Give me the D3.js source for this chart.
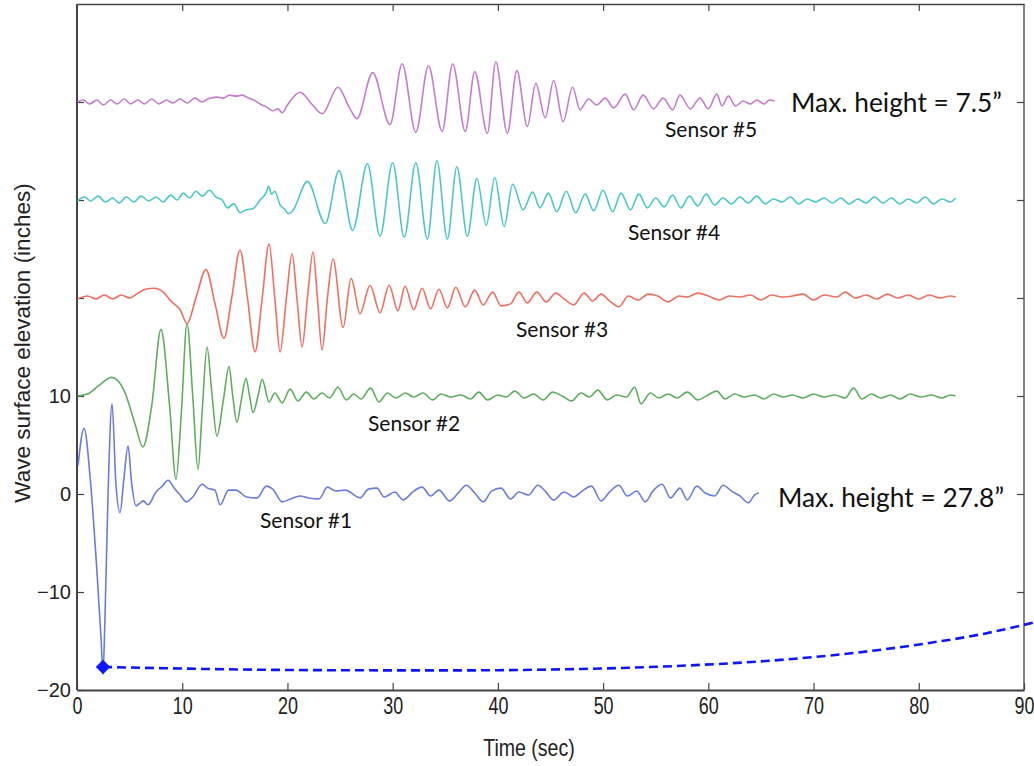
<!DOCTYPE html>
<html>
<head>
<meta charset="utf-8">
<script src="https://cdn.jsdelivr.net/npm/d3@7"></script>
<style>
  html, body { margin: 0; padding: 0; background: #ffffff; }
  svg { display: block; }
</style>
</head>
<body>
<svg id="chart" width="1034" height="766"></svg>
<script>
// ---------- data (time in sec, elevation in inches incl. vertical offset) ----------
const xTicks = [0, 10, 20, 30, 40, 50, 60, 70, 80, 90];
const yTicks = [-20, -10, 0, 10, 20, 30, 40];
const yTickLabels = ["−20", "−10", "0", "10", "", "", ""];

const sensorNames = ["Sensor #1", "Sensor #2", "Sensor #3", "Sensor #4", "Sensor #5"];

const sensor1 = [[0.1,2.9],[0.67,6.7],[1.3,1.0],[1.9,-8.0],[2.3,-15.0],[2.47,-18.4],[2.65,-13.0],[2.95,0.0],[3.33,9.2],[3.7,1.0],[4.09,-1.9],[4.45,1.5],[4.85,4.9],[5.2,1.0],[5.61,-1.2],[6.0,-0.9],[6.3,-0.7],[6.75,-1.1],[7.5,0.2],[8.1,0.8],[8.65,1.4],[9.3,0.5],[9.8,-0.1],[10.4,-0.8],[11.0,-0.3],[11.9,1.0],[12.4,0.6],[13.1,0.4],[13.6,-1.1],[14.4,0.4],[15.1,0.4],[16.1,-0.3],[17.1,-0.4],[18.0,0.8],[18.6,0.5],[19.5,-0.8],[20.3,-0.5],[21.2,-0.2],[22.0,-0.4],[23.0,-0.5],[23.8,0.7],[24.6,0.3],[25.5,0.4],[26.9,-0.4],[27.7,0.5],[28.5,0.6],[29.2,-0.3],[30.2,0.2],[31.0,-0.6],[32.0,0.3],[32.8,0.7],[33.6,-0.2],[34.4,0.4],[35.4,-0.7],[36.3,0.2],[37.0,0.9],[37.8,0.1],[38.6,-0.8],[39.4,0.3],[40.3,0.6],[41.2,-0.5],[42.0,0.2],[42.9,-0.1],[43.8,0.9],[44.5,0.3],[45.3,-0.6],[46.3,0.2],[47.2,-0.3],[48.0,0.3],[48.9,0.8],[49.8,-0.7],[50.6,0.2],[51.5,0.9],[52.3,-0.2],[53.2,0.3],[54.0,-0.8],[54.8,0.4],[55.6,1.0],[56.4,-0.4],[57.3,0.6],[58.0,-0.6],[58.9,0.8],[59.7,0.1],[60.6,-0.2],[61.4,0.9],[62.2,0.3],[63.0,-0.2],[63.8,-0.9],[64.4,-0.1],[64.8,0.1]];

const sensor2 = [[0.05,10.0],[1.0,10.2],[2.0,11.0],[3.3,11.9],[4.5,10.5],[5.5,7.2],[6.27,4.8],[7.1,9.0],[7.98,16.8],[8.8,9.0],[9.41,1.5],[9.9,8.0],[10.46,17.4],[11.0,10.0],[11.5,2.5],[11.9,8.5],[12.36,15.0],[12.8,10.5],[13.3,5.9],[13.9,9.5],[14.45,13.0],[14.8,10.0],[15.2,7.3],[15.6,9.5],[16.06,11.8],[16.4,10.0],[16.73,8.3],[17.2,10.0],[17.6,11.7],[18.25,9.4],[18.8,10.3],[19.5,9.3],[20.25,10.7],[21.0,9.5],[21.8,10.4],[22.5,9.7],[23.3,10.3],[24.0,9.8],[24.8,10.9],[25.6,9.6],[26.3,10.2],[27.0,9.7],[27.9,10.8],[28.7,9.4],[29.5,10.3],[30.3,9.8],[31.2,10.3],[32.0,9.9],[32.9,10.3],[33.8,9.6],[34.6,10.2],[35.5,9.9],[36.5,10.1],[37.4,9.7],[38.2,10.4],[39.0,9.6],[40.0,10.1],[40.8,9.9],[41.6,10.5],[42.5,9.8],[43.4,10.2],[44.3,9.6],[45.2,10.4],[46.1,10.0],[47.0,9.5],[47.9,10.3],[48.7,9.9],[49.5,10.6],[50.4,9.6],[51.3,10.1],[52.2,9.9],[53.0,10.9],[53.6,9.2],[54.5,10.3],[55.3,9.8],[56.2,10.2],[57.0,9.8],[58.0,10.4],[59.0,9.6],[59.8,10.0],[60.8,10.5],[61.6,9.7],[62.5,10.2],[63.4,9.9],[64.4,10.1],[65.3,9.7],[66.2,10.2],[67.1,9.9],[68.0,10.1],[69.0,9.8],[70.0,10.2],[71.0,9.9],[72.0,10.1],[73.0,9.8],[73.8,10.8],[74.6,9.7],[75.5,10.2],[76.4,9.8],[77.3,10.1],[78.2,9.7],[79.2,10.2],[80.2,9.9],[81.2,10.1],[82.2,9.8],[83.0,10.1],[83.5,10.0]];

const sensor3 = [[0.05,19.9],[1.0,20.2],[1.8,19.9],[2.6,20.3],[3.4,19.9],[4.2,20.3],[5.0,20.0],[5.8,20.5],[6.5,20.9],[7.4,21.0],[8.2,20.6],[9.0,19.6],[9.8,18.8],[10.46,17.4],[11.3,20.0],[12.26,22.9],[13.1,19.5],[13.97,15.9],[14.7,20.0],[15.49,24.9],[16.2,20.0],[16.92,14.5],[17.6,20.0],[18.25,25.5],[18.8,20.0],[19.3,14.5],[19.9,20.0],[20.44,24.5],[20.9,20.0],[21.39,15.0],[21.9,20.0],[22.43,24.7],[22.85,20.0],[23.29,14.7],[23.8,20.0],[24.33,24.0],[25.29,17.0],[26.05,22.0],[26.9,18.4],[27.85,21.3],[28.8,18.5],[29.66,21.3],[30.5,18.7],[31.18,21.2],[32.0,18.8],[32.8,21.0],[33.6,18.9],[34.4,20.9],[35.2,19.0],[36.0,21.1],[36.9,19.1],[37.8,20.8],[38.6,19.3],[39.5,20.6],[40.3,19.2],[41.2,19.4],[42.0,20.6],[42.8,19.5],[43.7,20.6],[44.6,19.6],[45.5,20.5],[46.3,19.9],[47.2,19.3],[48.2,20.5],[49.0,19.7],[49.8,20.4],[50.6,19.7],[51.5,19.1],[52.4,20.2],[53.3,19.8],[54.3,20.4],[55.2,20.2],[56.2,19.6],[57.2,20.2],[58.0,20.1],[59.0,20.5],[60.0,20.2],[61.0,19.8],[62.0,20.2],[63.0,20.1],[64.0,20.3],[65.0,19.8],[66.0,20.3],[67.0,20.1],[68.0,20.2],[69.0,20.4],[70.0,19.8],[71.0,20.3],[72.2,20.1],[73.0,20.6],[74.0,20.0],[75.0,20.3],[76.0,19.9],[77.0,20.4],[78.0,20.0],[79.0,20.3],[80.0,19.9],[81.0,20.3],[82.0,20.0],[83.0,20.2],[83.5,20.1]];

const sensor4 = [[0.05,29.9],[0.7,30.3],[1.3,29.9],[2.0,30.4],[2.7,29.8],[3.4,30.2],[4.0,29.7],[4.7,30.3],[5.4,29.8],[6.1,30.4],[6.8,29.9],[7.5,30.3],[8.2,29.8],[8.9,30.5],[9.5,30.0],[10.1,30.7],[10.7,30.2],[11.3,30.9],[11.9,30.4],[12.6,31.0],[13.2,30.3],[13.8,30.0],[14.3,29.2],[14.9,29.6],[15.5,28.7],[16.1,29.0],[16.7,29.1],[17.4,30.0],[18.0,30.8],[18.2,31.4],[18.5,30.6],[18.8,30.9],[19.3,29.5],[19.7,29.1],[20.1,28.6],[20.5,28.9],[21.9,31.9],[23.6,27.6],[24.9,33.0],[26.2,26.9],[27.6,33.7],[28.8,26.3],[30.0,33.8],[31.1,26.2],[32.2,33.8],[33.3,26.0],[34.2,34.0],[35.2,26.0],[36.1,33.4],[37.1,26.3],[38.0,32.2],[38.9,27.4],[39.7,32.3],[40.6,27.3],[41.4,31.6],[42.4,29.0],[43.3,30.8],[44.0,29.2],[44.8,30.7],[45.6,28.8],[46.5,30.9],[47.4,28.7],[48.3,30.6],[49.1,28.9],[50.0,31.0],[50.9,28.8],[51.7,30.7],[52.6,29.0],[53.4,30.6],[54.2,29.2],[55.0,30.2],[55.8,29.3],[56.6,30.5],[57.4,29.2],[58.2,30.4],[59.0,29.4],[59.8,30.6],[60.6,29.5],[61.4,30.2],[62.2,29.6],[63.0,30.3],[63.8,29.7],[64.6,30.4],[65.4,29.6],[66.2,30.1],[67.0,29.8],[67.8,30.3],[68.6,29.6],[69.4,30.1],[70.2,29.8],[71.0,30.2],[71.8,29.7],[72.6,30.2],[73.4,29.6],[74.2,30.1],[75.0,29.7],[75.8,30.3],[76.6,29.7],[77.4,30.2],[78.2,29.6],[79.0,30.1],[79.8,29.7],[80.6,30.3],[81.4,29.6],[82.2,30.1],[83.0,29.8],[83.5,30.2]];

const sensor5 = [[0.05,40.0],[0.6,40.2],[1.2,39.8],[1.9,40.2],[2.5,39.7],[3.2,40.2],[3.8,39.8],[4.5,40.3],[5.1,39.8],[5.8,40.2],[6.4,39.8],[7.1,40.3],[7.8,39.8],[8.5,40.2],[9.1,39.9],[9.8,40.3],[10.5,39.9],[11.2,40.4],[11.9,40.0],[12.4,40.3],[13.3,40.5],[13.9,40.4],[14.5,40.7],[15.1,40.6],[15.7,40.7],[16.3,40.4],[16.8,40.2],[17.4,39.8],[18.0,39.5],[18.6,39.1],[19.1,39.3],[19.5,38.9],[20.0,39.7],[21.2,41.0],[22.3,39.8],[23.3,38.8],[24.8,41.5],[25.9,39.4],[26.6,38.3],[28.1,43.0],[29.75,37.7],[30.9,43.9],[32.2,36.9],[33.4,43.7],[34.7,37.0],[35.7,43.9],[36.9,37.0],[37.8,43.1],[39.0,36.8],[39.8,44.1],[40.9,36.8],[41.8,43.2],[42.8,37.5],[43.6,41.9],[44.5,38.4],[45.3,42.2],[46.2,38.0],[47.1,41.5],[47.8,39.2],[48.6,40.3],[49.4,39.7],[50.2,40.4],[51.0,39.4],[52.1,40.8],[52.9,39.2],[53.8,40.7],[54.8,39.3],[55.7,40.4],[56.6,39.2],[57.3,40.7],[58.3,39.3],[59.2,40.4],[60.0,39.3],[60.8,40.8],[61.3,39.6],[61.9,40.6],[62.6,39.6],[63.3,40.1],[64.0,39.8],[64.6,40.2],[65.3,39.8],[65.8,40.2],[66.3,40.1]];

const sensorColors = ["#6a7ddc", "#5fae5f", "#ef6f60", "#4cc7c9", "#c57ccf"];

// annotation: max trough of sensor 1 and dashed guide curve
const troughPoint = [2.47, -17.65];
const guideCurve = [[2.47,-17.65],[12,-17.85],[22,-17.97],[35,-18.0],[48,-17.85],[58,-17.5],[66,-17.0],[74,-16.2],[81,-15.2],[86,-14.3],[91,-13.1]];

const maxLabels = ["Max. height = 7.5\u201D", "Max. height = 27.8\u201D"];
const xTitle = "Time (sec)";
const yTitle = "Wave surface elevation (inches)";

// ---------- drawing ----------
const svg = d3.select("#chart");
const W = 1034, H = 766;
const m = {left: 77, top: 4, right: 10, bottom: 76};
const x = d3.scaleLinear().domain([0, 90]).range([m.left, W - m.right]);
const y = d3.scaleLinear().domain([-20, 50]).range([H - m.bottom, m.top]);

svg.append("rect").attr("width", W).attr("height", H).attr("fill", "#fff");

const tickFont = "'Liberation Sans', Arial, sans-serif";
const labelFont = "Lato, 'Open Sans', sans-serif";

function styleAxis(g, color, width) {
  g.select(".domain").attr("stroke", color).attr("stroke-width", width);
  g.selectAll(".tick line").attr("stroke", color).attr("stroke-width", 1.2);
  g.selectAll(".tick text").attr("fill", "#222").attr("font-family", tickFont).attr("font-size", 20);
}

// bottom axis
const gx = svg.append("g").attr("transform", `translate(0,${y(-20)})`)
  .call(d3.axisBottom(x).tickValues(xTicks).tickSize(-7).tickSizeOuter(0).tickPadding(8).tickFormat(d3.format("d")));
styleAxis(gx, "#444", 2);
gx.selectAll(".tick text").attr("font-size", 23).attr("transform", "scale(0.78,1)");
gx.selectAll(".tick").filter(d => d === 90).select("text")
  .attr("text-anchor", "end").attr("x", 10 / 0.78);

// top axis
const gt = svg.append("g").attr("transform", `translate(0,${y(50)})`)
  .call(d3.axisTop(x).tickValues(xTicks.filter(v => v > 0 && v < 90)).tickSize(-7).tickSizeOuter(0).tickFormat(""));
styleAxis(gt, "#444", 1.3);

// left axis
const gy = svg.append("g").attr("transform", `translate(${x(0)},0)`)
  .call(d3.axisLeft(y).tickValues(yTicks).tickSize(-7).tickSizeOuter(0).tickPadding(6)
    .tickFormat((d, i) => yTickLabels[i]));
styleAxis(gy, "#444", 2);
gy.select(".domain").attr("d", `M0,${y(-20)}V${y(50)}`);

// right axis
const gr = svg.append("g").attr("transform", `translate(${x(90)},0)`)
  .call(d3.axisRight(y).tickValues(yTicks).tickSize(-7).tickSizeOuter(0).tickFormat(""));
styleAxis(gr, "#444", 1.3);
gr.select(".domain").attr("d", `M0,${y(-20)}V${y(50)}`);

// axis titles
svg.append("text").attr("transform", "translate(529,756) scale(0.85,1)")
  .attr("text-anchor", "middle").attr("font-family", tickFont).attr("font-size", 23)
  .attr("fill", "#222").text(xTitle);
svg.append("text").attr("transform", `translate(30,${343}) rotate(-90)`)
  .attr("text-anchor", "middle").attr("font-family", tickFont).attr("font-size", 22.5)
  .attr("fill", "#222").text(yTitle);

// sensor lines
const line = d3.line().x(d => x(d[0])).y(d => y(d[1])).curve(d3.curveMonotoneX);
const sensors = [sensor1, sensor2, sensor3, sensor4, sensor5];
sensors.forEach((s, i) => {
  svg.append("path").datum(s).attr("d", line)
    .attr("fill", "none").attr("stroke", sensorColors[i]).attr("stroke-width", 1.6)
    .attr("stroke-linejoin", "round");
});

// guide curve & marker
svg.append("path").datum(guideCurve).attr("d", line)
  .attr("fill", "none").attr("stroke", "#0d16ff").attr("stroke-width", 2.6)
  .attr("stroke-dasharray", "9,5");
svg.append("path").attr("d", d3.symbol(d3.symbolSquare).size(105)())
  .attr("transform", `translate(${x(troughPoint[0])},${y(troughPoint[1])}) rotate(45)`)
  .attr("fill", "#0d16ff");

// sensor labels
const sensorLabelPos = [[260, 528], [368, 431], [516, 337], [628, 240], [665, 137]];
sensorNames.forEach((n, i) => {
  svg.append("text").attr("x", sensorLabelPos[i][0]).attr("y", sensorLabelPos[i][1])
    .attr("font-family", labelFont).attr("font-size", 21).attr("fill", "#111").text(n);
});

// max height labels
svg.append("text").attr("x", 791).attr("y", 112).attr("font-family", labelFont)
  .attr("font-size", 27.5).attr("textLength", 211).attr("lengthAdjust", "spacingAndGlyphs")
  .attr("fill", "#111").text(maxLabels[0]);
svg.append("text").attr("x", 778).attr("y", 507).attr("font-family", labelFont)
  .attr("font-size", 27.5).attr("textLength", 226).attr("lengthAdjust", "spacingAndGlyphs")
  .attr("fill", "#111").text(maxLabels[1]);
</script>
</body>
</html>
